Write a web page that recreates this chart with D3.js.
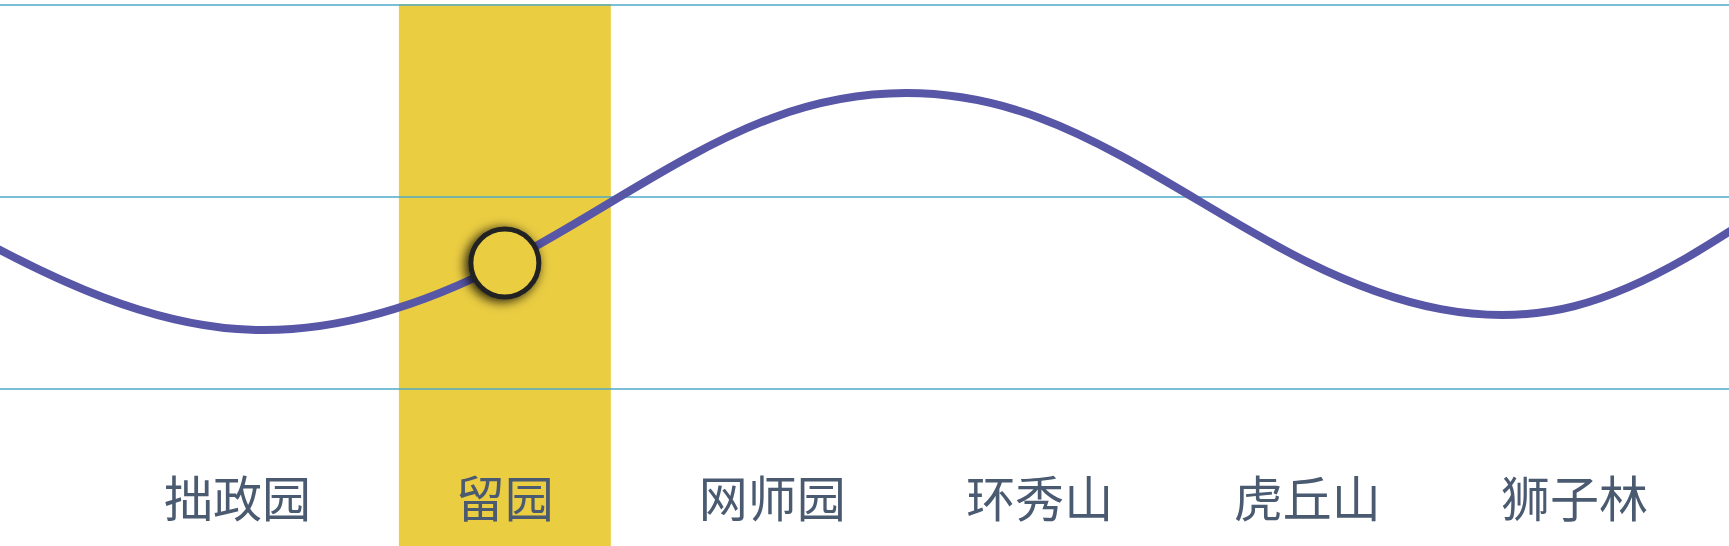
<!DOCTYPE html>
<html>
<head>
<meta charset="utf-8">
<script src="https://cdn.jsdelivr.net/npm/d3@7"></script>
<style>
  html, body { margin: 0; padding: 0; background: #ffffff; overflow: hidden; }
  svg { display: block; }
</style>
</head>
<body>
<div id="chart"></div>
<script>
// ---- data ----
const categories = ["拙政园", "留园", "网师园", "环秀山", "虎丘山", "狮子林"];
const values = [15.6, 32.8, 70.6, 70.6, 33.1, 21.6];
const leadValues = [83.9, 40.4];     // wave continues off the left edge (2 steps, 1 step before)
const trailValues = [60.5, 102];     // wave continues off the right edge (1 step, 2 steps after)
const yTicks = [0, 50, 100];
const highlighted = "留园";

// ---- layout ----
const W = 1729, H = 546;
const svg = d3.select("#chart").append("svg").attr("width", W).attr("height", H);

const x = d3.scaleBand().domain(categories).range([86, 1726])
  .paddingInner(0.2075).paddingOuter(0.17);
const y = d3.scaleLinear().domain([0, 100]).range([389, 5]);
// position by step index (0 = first category centre)
const xi = d3.scaleLinear().domain([0, 1])
  .range([x(categories[0]) + x.bandwidth() / 2, x(categories[0]) + x.bandwidth() / 2 + x.step()]);

const defs = svg.append("defs");
const f = defs.append("filter").attr("id", "shadow")
  .attr("x", "-80%").attr("y", "-80%").attr("width", "260%").attr("height", "260%");
f.append("feDropShadow").attr("dx", -3).attr("dy", 2).attr("stdDeviation", 6)
  .attr("flood-color", "#000").attr("flood-opacity", 0.9);

// highlight band
svg.append("rect")
  .attr("x", x(highlighted)).attr("width", x.bandwidth())
  .attr("y", y(100) - 1).attr("height", H - y(100) + 1)
  .attr("fill", "#EBCD42");

// grid lines
svg.append("g").selectAll("line").data(yTicks).join("line")
  .attr("x1", 0).attr("x2", W)
  .attr("y1", d => y(d)).attr("y2", d => y(d))
  .attr("stroke", "#4FAAC8").attr("stroke-width", 1.5);

// line
const series = leadValues.map((v, i) => [i - leadValues.length, v])
  .concat(values.map((v, i) => [i, v]))
  .concat(trailValues.map((v, i) => [values.length + i, v]));
svg.append("path")
  .attr("d", d3.line().x(d => xi(d[0])).y(d => y(d[1])).curve(d3.curveNatural)(series))
  .attr("fill", "none").attr("stroke", "#5856A6").attr("stroke-width", 8);

// highlighted point
const hi = categories.indexOf(highlighted);
svg.append("circle")
  .attr("cx", x(highlighted) + x.bandwidth() / 2).attr("cy", y(values[hi]))
  .attr("r", 34).attr("fill", "#EBCD42").attr("stroke", "#222")
  .attr("stroke-width", 5).attr("filter", "url(#shadow)");

// category labels
svg.append("g").selectAll("text").data(categories).join("text")
  .attr("x", d => x(d) + x.bandwidth() / 2).attr("y", 495)
  .attr("text-anchor", "middle").attr("dominant-baseline", "central")
  .attr("font-family", "'Noto Sans CJK SC', sans-serif").attr("font-size", 49)
  .attr("fill", "#4A5A70")
  .text(d => d);
</script>
</body>
</html>
